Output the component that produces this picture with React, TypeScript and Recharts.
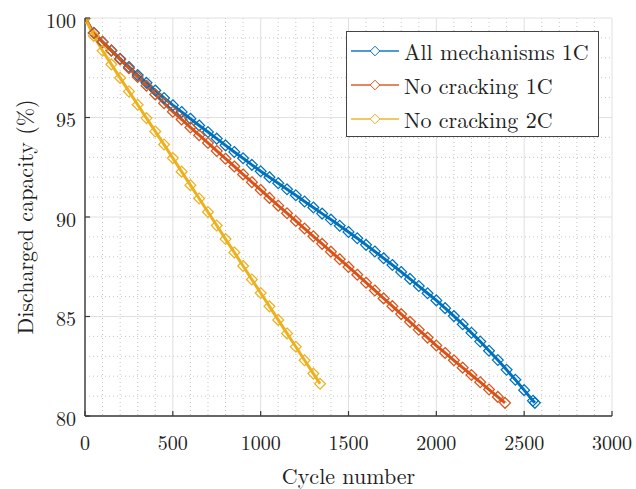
import React from 'react';
import { LineChart, Line, XAxis, YAxis, CartesianGrid, Legend } from 'recharts';

const seriesNames = ['All mechanisms 1C', 'No cracking 1C', 'No cracking 2C'];
const seriesColors = ['#0072BD', '#D95319', '#EDB120'];

const allMechCycles = [0, 50, 100, 150, 200, 250, 300, 350, 400, 450, 500, 550, 600, 650, 700, 750, 800, 850, 900, 950, 1000, 1050, 1100, 1150, 1200, 1250, 1300, 1350, 1400, 1450, 1500, 1550, 1600, 1650, 1700, 1750, 1800, 1850, 1900, 1950, 2000, 2050, 2100, 2150, 2200, 2250, 2300, 2350, 2400, 2450, 2500, 2550, 2561];
const allMechCapacity = [100, 99.25, 98.8, 98.37, 97.95, 97.54, 97.13, 96.74, 96.36, 95.98, 95.62, 95.28, 94.94, 94.6, 94.27, 93.94, 93.6, 93.27, 92.95, 92.62, 92.3, 92.0, 91.7, 91.39, 91.09, 90.78, 90.48, 90.17, 89.87, 89.56, 89.25, 88.93, 88.6, 88.27, 87.93, 87.59, 87.24, 86.89, 86.53, 86.17, 85.81, 85.42, 85.02, 84.61, 84.18, 83.74, 83.28, 82.81, 82.32, 81.82, 81.3, 80.77, 80.66];

const noCrack1CCycles = [0, 50, 100, 150, 200, 250, 300, 350, 400, 450, 500, 550, 600, 650, 700, 750, 800, 850, 900, 950, 1000, 1050, 1100, 1150, 1200, 1250, 1300, 1350, 1400, 1450, 1500, 1550, 1600, 1650, 1700, 1750, 1800, 1850, 1900, 1950, 2000, 2050, 2100, 2150, 2200, 2250, 2300, 2350, 2391];
const noCrack1CCapacity = [100, 99.25, 98.8, 98.36, 97.92, 97.48, 97.04, 96.6, 96.16, 95.72, 95.29, 94.9, 94.5, 94.11, 93.72, 93.32, 92.93, 92.54, 92.14, 91.75, 91.36, 90.96, 90.57, 90.19, 89.8, 89.42, 89.03, 88.65, 88.26, 87.88, 87.49, 87.1, 86.7, 86.31, 85.91, 85.52, 85.12, 84.73, 84.33, 83.94, 83.54, 83.17, 82.8, 82.43, 82.06, 81.7, 81.33, 80.96, 80.66];

const noCrack2CCycles = [0, 50, 100, 150, 200, 250, 300, 350, 400, 450, 500, 550, 600, 650, 700, 750, 800, 850, 900, 950, 1000, 1050, 1100, 1150, 1200, 1250, 1300, 1338];
const noCrack2CCapacity = [100, 99.1, 98.35, 97.67, 96.99, 96.31, 95.64, 94.97, 94.3, 93.64, 92.96, 92.28, 91.6, 90.93, 90.25, 89.57, 88.89, 88.22, 87.54, 86.86, 86.18, 85.51, 84.83, 84.15, 83.48, 82.8, 82.13, 81.62];

const xTicks = [0, 500, 1000, 1500, 2000, 2500, 3000];
const yTicks = [80, 85, 90, 95, 100];
const xMinor = [100, 200, 300, 400, 600, 700, 800, 900, 1100, 1200, 1300, 1400, 1600, 1700, 1800, 1900, 2100, 2200, 2300, 2400, 2600, 2700, 2800, 2900];
const yMinor = [81, 82, 83, 84, 86, 87, 88, 89, 91, 92, 93, 94, 96, 97, 98, 99];

const zip = (xs: number[], ys: number[]) => xs.map((x, i) => ({ x, y: ys[i] }));
const seriesData = [
  zip(allMechCycles, allMechCapacity),
  zip(noCrack1CCycles, noCrack1CCapacity),
  zip(noCrack2CCycles, noCrack2CCapacity),
];

const FONT = '"Latin Modern Roman", "Liberation Serif", serif';
const AXIS_COLOR = '#3a3a3a';
const textStyle = { fontFamily: FONT };

const makeDiamond = (color: string) => (props: any) => {
  const { cx, cy, index } = props;
  if (cx == null || cy == null) return <g key={`e-${index}`} />;
  const r = 5.4;
  return (
    <path
      key={`d-${index}`}
      d={`M${cx},${cy - r}L${cx + r},${cy}L${cx},${cy + r}L${cx - r},${cy}Z`}
      fill="none"
      stroke={color}
      strokeWidth={1.25}
    />
  );
};

const XTick = (props: any) => {
  const { x, y, payload } = props;
  return (
    <g>
      <line x1={x} x2={x} y1={y} y2={y - 5} stroke={AXIS_COLOR} strokeWidth={1.2} />
      <text x={x} y={y + 25} textAnchor="middle" dominantBaseline="central" style={textStyle} fontSize={20} fill="#222">
        {payload.value}
      </text>
    </g>
  );
};

const YTick = (props: any) => {
  const { x, y, payload } = props;
  return (
    <g>
      <line x1={x} x2={x + 5} y1={y} y2={y} stroke={AXIS_COLOR} strokeWidth={1.2} />
      <text x={x - 9} y={y + 1} textAnchor="end" dominantBaseline="central" style={textStyle} fontSize={20} fill="#222">
        {payload.value}
      </text>
    </g>
  );
};

const XTitle = (props: any) => {
  const vb = props.viewBox;
  return (
    <text x={vb.x + vb.width / 2} y={vb.y + 58} textAnchor="middle" dominantBaseline="central" style={textStyle} fontSize={22} fill="#222">
      Cycle number
    </text>
  );
};

const YTitle = (props: any) => {
  const vb = props.viewBox;
  const cx = vb.x - 2;
  const cy = vb.y + vb.height / 2;
  return (
    <text x={cx} y={cy} transform={`rotate(-90 ${cx} ${cy})`} textAnchor="middle" dominantBaseline="central" style={textStyle} fontSize={22} fill="#222">
      Discharged capacity (%)
    </text>
  );
};

const LegendBox = () => (
  <div
    style={{
      width: 253,
      height: 106,
      boxSizing: 'border-box',
      border: '1px solid #444',
      background: '#fff',
      paddingTop: 2,
      fontFamily: FONT,
      fontSize: 22,
      color: '#222',
    }}
  >
    {seriesNames.map((name, i) => (
      <div key={name} style={{ height: 34, display: 'flex', alignItems: 'center' }}>
        <svg width={56} height={34} style={{ display: 'block' }}>
          <line x1={4} x2={52} y1={17} y2={17} stroke={seriesColors[i]} strokeWidth={2} strokeOpacity={0.7} />
          <path d="M28,12.2L32.8,17L28,21.8L23.2,17Z" fill="#fff" stroke={seriesColors[i]} strokeWidth={1} />
        </svg>
        <span style={{ marginLeft: 1, whiteSpace: 'nowrap', lineHeight: '34px' }}>{name}</span>
      </div>
    ))}
  </div>
);

export default function App() {
  return (
    <div style={{ position: 'absolute', left: 0, top: 0, width: 636, height: 489, background: '#fff' }}>
      <LineChart width={636} height={489} margin={{ top: 18, right: 24, bottom: 43, left: 25 }}>
        <CartesianGrid
          horizontalValues={yMinor}
          verticalValues={xMinor}
          stroke="#c4c4c4"
          strokeDasharray="1 3"
          strokeWidth={1}
        />
        <CartesianGrid
          horizontalValues={yTicks}
          verticalValues={xTicks}
          stroke="#e0e0e0"
          strokeWidth={1}
        />
        <XAxis
          type="number"
          dataKey="x"
          domain={[0, 3000]}
          ticks={xTicks}
          interval={0}
          allowDataOverflow
          height={30}
          tickSize={0}
          tickMargin={0}
          tick={<XTick />}
          axisLine={{ stroke: AXIS_COLOR, strokeWidth: 1.4 }}
          label={XTitle}
        />
        <YAxis
          type="number"
          dataKey="y"
          domain={[80, 100]}
          ticks={yTicks}
          interval={0}
          allowDataOverflow
          width={60}
          tickSize={0}
          tickMargin={0}
          tick={<YTick />}
          axisLine={{ stroke: AXIS_COLOR, strokeWidth: 1.4 }}
          label={YTitle}
        />
        {seriesData.map((d, i) => (
          <Line
            key={seriesNames[i]}
            name={seriesNames[i]}
            data={d}
            dataKey="y"
            type="linear"
            stroke={seriesColors[i]}
            strokeWidth={3}
            dot={makeDiamond(seriesColors[i])}
            activeDot={false}
            isAnimationActive={false}
          />
        ))}
        <Legend
          layout="vertical"
          align="center"
          verticalAlign="middle"
          wrapperStyle={{ left: 346, top: 31, width: 253, height: 106 }}
          content={<LegendBox />}
        />
      </LineChart>
    </div>
  );
}
